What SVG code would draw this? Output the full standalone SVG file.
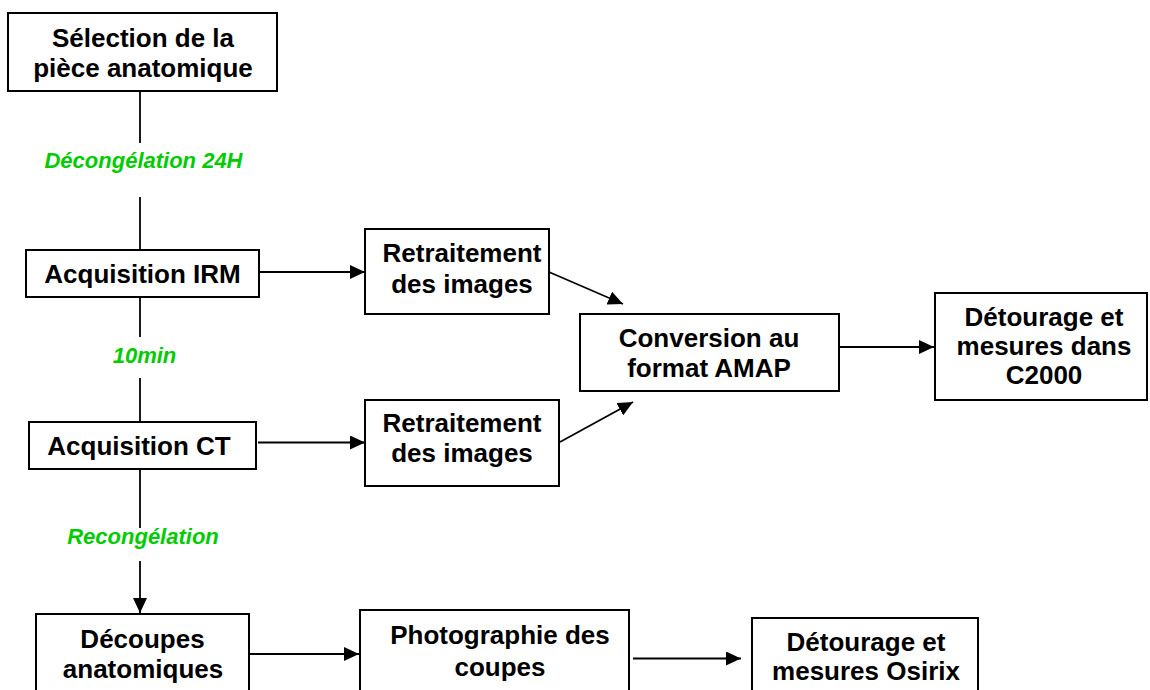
<svg xmlns="http://www.w3.org/2000/svg" width="1150" height="690" viewBox="0 0 1150 690">
<defs>
<style>
.box{fill:#fff;stroke:#000;stroke-width:2}
.t{font-family:"Liberation Sans",Arial,sans-serif;font-weight:bold;font-size:26px;fill:#000;text-anchor:middle}
.g{font-family:"Liberation Sans",Arial,sans-serif;font-weight:bold;font-style:italic;font-size:22px;fill:#00cc00;text-anchor:middle}
.c{fill:none;stroke:#000;stroke-width:1.8}
</style>
<marker id="ah" markerUnits="userSpaceOnUse" markerWidth="15" markerHeight="14" refX="15" refY="7" orient="auto" viewBox="0 0 15 14">
<path d="M0,0 L15,7 L0,14 z" fill="#000"/>
</marker>
</defs>
<rect width="1150" height="690" fill="#fff"/>
<g id="connectors">
<line class="c" x1="140" y1="91" x2="140" y2="143"/>
<line class="c" x1="140" y1="197" x2="140" y2="250"/>
<line class="c" x1="140" y1="297" x2="140" y2="337"/>
<line class="c" x1="140" y1="378" x2="140" y2="422"/>
<line class="c" x1="140" y1="469" x2="140" y2="528"/>
<line class="c" x1="140" y1="561" x2="140" y2="613" marker-end="url(#ah)"/>
<line class="c" x1="258" y1="272" x2="365" y2="272" marker-end="url(#ah)"/>
<line class="c" x1="258" y1="442.5" x2="365" y2="442.5" marker-end="url(#ah)"/>
<line class="c" x1="549" y1="272" x2="623" y2="304" marker-end="url(#ah)"/>
<line class="c" x1="560" y1="442" x2="633" y2="402" marker-end="url(#ah)"/>
<line class="c" x1="839" y1="347" x2="934" y2="347" marker-end="url(#ah)"/>
<line class="c" x1="250" y1="654" x2="359" y2="654" marker-end="url(#ah)"/>
<line class="c" x1="633" y1="658.5" x2="741" y2="658.5" marker-end="url(#ah)"/>
<text class="g" x="143.5" y="168">Décongélation 24H</text>
<text class="g" x="144.5" y="363">10min</text>
<text class="g" x="143" y="544">Recongélation</text>
</g>
<g id="selection">
<rect class="box" x="8" y="13" width="269" height="78"/>
<text class="t" x="143" y="47">Sélection de la</text>
<text class="t" x="143" y="77">pièce anatomique</text>
</g>
<g id="irm">
<rect class="box" x="26" y="250" width="233" height="47"/>
<text class="t" x="142.5" y="283">Acquisition IRM</text>
</g>
<g id="ct">
<rect class="box" x="29" y="422" width="227" height="47"/>
<text class="t" x="139" y="455">Acquisition CT</text>
</g>
<g id="retraitement1">
<rect class="box" x="365" y="229" width="184" height="85"/>
<text class="t" x="462" y="262">Retraitement</text>
<text class="t" x="462" y="293">des images</text>
</g>
<g id="retraitement2">
<rect class="box" x="365" y="400" width="194" height="86"/>
<text class="t" x="462" y="432">Retraitement</text>
<text class="t" x="462" y="462">des images</text>
</g>
<g id="conversion">
<rect class="box" x="580" y="314" width="259" height="77"/>
<text class="t" x="709" y="347">Conversion au</text>
<text class="t" x="709" y="377">format AMAP</text>
</g>
<g id="detourage-c2000">
<rect class="box" x="935" y="293" width="212" height="107"/>
<text class="t" x="1044" y="326">Détourage et</text>
<text class="t" x="1044" y="355">mesures dans</text>
<text class="t" x="1044" y="384">C2000</text>
</g>
<g id="decoupes">
<rect class="box" x="36" y="614" width="213" height="90"/>
<text class="t" x="142.5" y="648">Découpes</text>
<text class="t" x="143" y="678">anatomiques</text>
</g>
<g id="photographie">
<rect class="box" x="360" y="610" width="269" height="94"/>
<text class="t" x="500" y="644">Photographie des</text>
<text class="t" x="500" y="676">coupes</text>
</g>
<g id="detourage-osirix">
<rect class="box" x="752" y="618" width="226" height="86"/>
<text class="t" x="866" y="651">Détourage et</text>
<text class="t" x="866" y="680">mesures Osirix</text>
</g>
</svg>
